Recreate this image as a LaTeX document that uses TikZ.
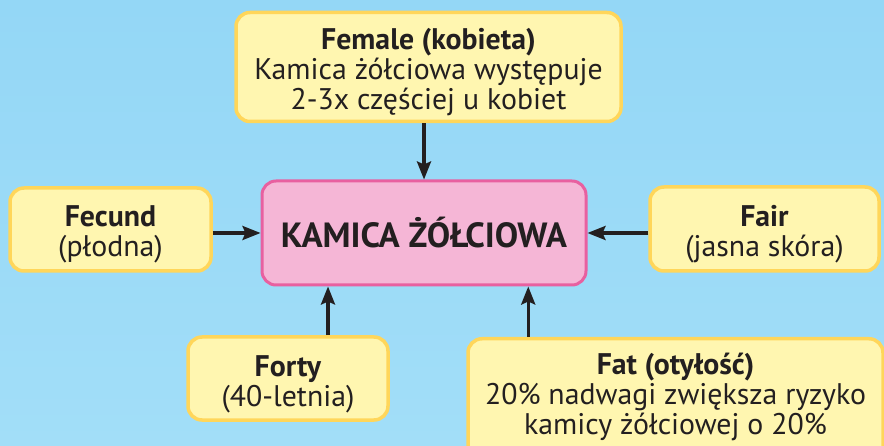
\documentclass[tikz,border=0pt]{standalone}
\usepackage{fontspec}
\setmainfont{PT Sans}
\usetikzlibrary{arrows.meta,calc}
\definecolor{bgblue}{RGB}{162,222,248}
\definecolor{bgtop}{RGB}{148,215,246}
\definecolor{yfill}{RGB}{255,246,176}
\definecolor{ydraw}{RGB}{255,214,90}
\definecolor{pfill}{RGB}{245,182,214}
\definecolor{pdraw}{RGB}{232,96,160}
\definecolor{ink}{RGB}{35,31,32}
\tikzset{
  ybox/.style={draw=ydraw,fill=yfill,line width=3.5pt,rounded corners=14pt,inner sep=0pt},
  ytext/.style={align=center,text=ink,font=\fontsize{29.8}{30}\selectfont,inner sep=0pt,yshift=-5pt},
  pbox/.style={draw=pdraw,fill=pfill,line width=3pt,rounded corners=14pt,
    align=center,text=ink,font=\bfseries\fontsize{35}{38}\selectfont,inner sep=0pt},
  arr/.style={draw=ink,line width=3.3pt,-{Stealth[length=18pt,width=14pt,inset=3pt]}}
}
\begin{document}
\begin{tikzpicture}[x=1pt,y=-1pt]
\shade[top color=bgtop,bottom color=bgblue] (0,0) rectangle (884,446);
\useasboundingbox (0,0) rectangle (884,446);
\node[ybox,minimum width=385pt,minimum height=109pt,
  label={[ytext]center:{\textbf{Female (kobieta)}\\Kamica żółciowa występuje\\2-3x częściej u kobiet}}] (female) at (428.5,67) {};
\node[pbox,minimum width=324pt,minimum height=104pt] (center) at (424,233) {\raisebox{1pt}{KAMICA ŻÓŁCIOWA}};
\node[ybox,minimum width=201pt,minimum height=83pt,
  label={[ytext]center:{\textbf{Fecund}\\(płodna)}}] (fecund) at (110.5,229.5) {};
\node[ybox,minimum width=229pt,minimum height=84pt,
  label={[ytext]center:{\textbf{Fair}\\(jasna skóra)}}] (fair) at (764.5,229) {};
\node[ybox,minimum width=200pt,minimum height=83pt,
  label={[ytext,yshift=-1pt]center:{\textbf{Forty}\\(40-letnia)}}] (forty) at (288,378.5) {};
\node[ybox,minimum width=415pt,minimum height=124pt,anchor=north] (fat) at (675.5,337) {};
\node[ytext,yshift=5pt,anchor=north] (fattext) at (675.5,353)
  {\textbf{Fat (otyłość)}\\20\% nadwagi zwiększa ryzyko\\kamicy żółciowej o 20\%};
\draw[arr] (female.south -| center.north) -- (center.north);
\draw[arr] (fecund.east |- center.west) -- (center.west);
\draw[arr] (fair.west |- center.east) -- (center.east);
\draw[arr] ([xshift=40pt]forty.north) -- ([xshift=40pt]forty.north |- center.south);
\draw[arr] ([xshift=62pt]fat.north west) -- ([xshift=62pt]fat.north west |- center.south);
\end{tikzpicture}
\end{document}
